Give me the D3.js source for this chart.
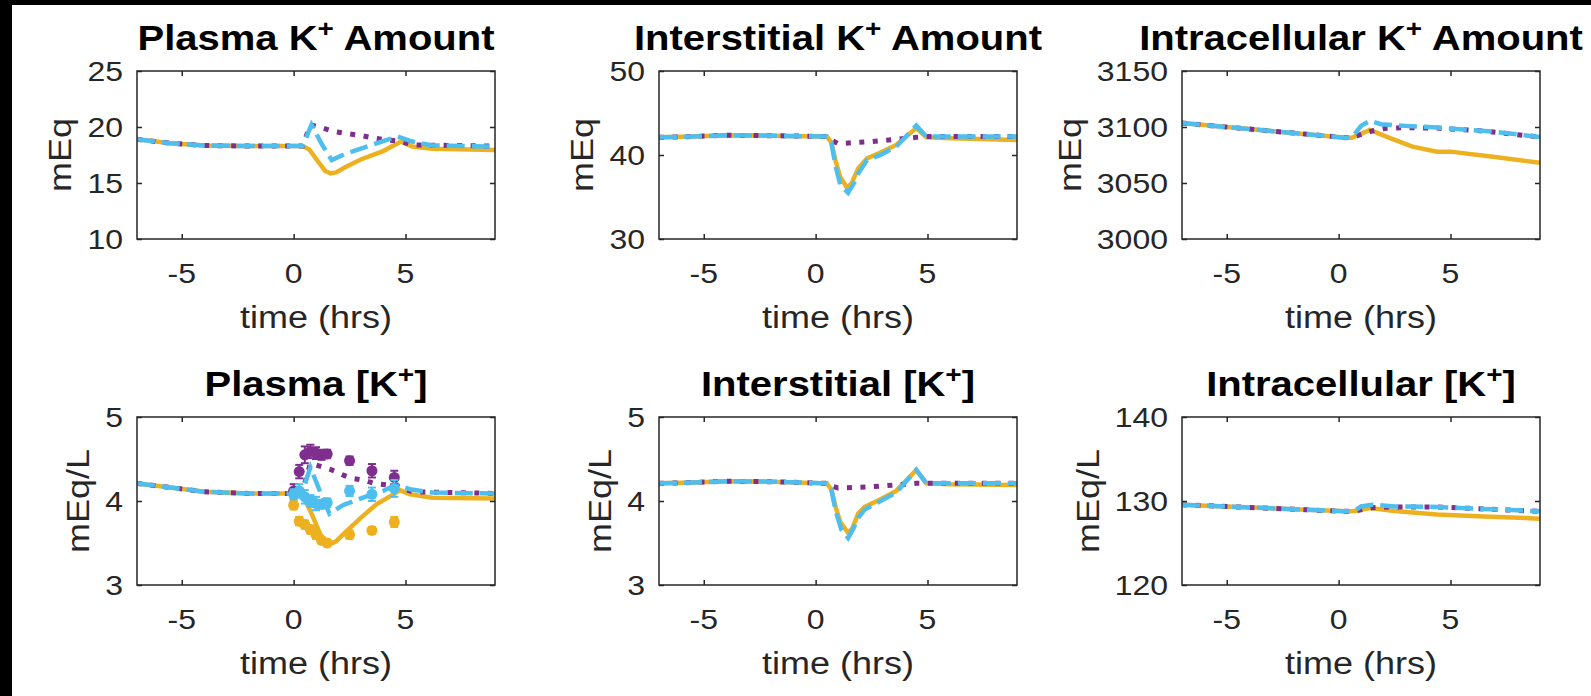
<!DOCTYPE html>
<html>
<head>
<meta charset="utf-8">
<script src="https://cdn.jsdelivr.net/npm/d3@7"></script>
<style>
  body { margin: 0; background: #000; }
  text { font-family: "Liberation Sans", Arial, sans-serif; fill: #262626; }
</style>
</head>
<body>
<div id="chart"></div>
<script>
// axe des temps, commun aux six panneaux
var timeDomain = [-7, 9]
var timeTicks = [-5, 0, 5]

// graduations verticales
var plasmaAmtTicks = [10, 15, 20, 25]
var interAmtTicks = [30, 40, 50]
var intraAmtTicks = [3000, 3050, 3100, 3150]
var plasmaConcTicks = [3, 4, 5]
var interConcTicks = [3, 4, 5]
var intraConcTicks = [120, 130, 140]

// Plasma K+ Amount (mEq) : [temps, valeur]
var plasmaAmtSolid = [[-7,18.9],[-5.5,18.55],[-4,18.35],[-2,18.3],[0.4,18.3],[0.7,18.0],[1.1,16.9],[1.4,16.1],[1.65,15.85],[1.9,15.95],[2.3,16.4],[3,17.1],[4,17.85],[4.8,18.7],[5.3,18.25],[6.2,18.05],[9,17.95]]
var plasmaAmtDashed = [[-7,18.9],[-5.5,18.55],[-4,18.35],[-2,18.3],[0.4,18.3],[0.8,20.2],[1.25,18.5],[1.7,17.05],[2.3,17.6],[3.2,18.2],[4.1,18.8],[4.65,19.15],[5.3,18.7],[6.2,18.35],[9,18.25]]
var plasmaAmtDotted = [[-7,18.9],[-5.5,18.55],[-4,18.35],[-2,18.3],[0.4,18.3],[0.75,20.2],[1.3,19.9],[1.8,19.6],[2.4,19.4],[3,19.25],[3.6,19.0],[4.2,18.85],[4.7,18.75],[5.3,18.4],[9,18.3]]

// Interstitial K+ Amount (mEq)
var interAmtSolid = [[-7,42.1],[-5.5,42.2],[-4,42.35],[-2,42.3],[0.5,42.2],[0.7,41.5],[0.9,39.2],[1.1,37.4],[1.4,36.1],[1.6,36.6],[1.9,38.4],[2.3,39.6],[2.9,40.3],[3.6,41.2],[4.5,43.2],[4.95,42.1],[6,42.0],[9,41.8]]
var interAmtDashed = [[-7,42.1],[-5.5,42.2],[-4,42.35],[-2,42.3],[0.5,42.2],[0.7,41.5],[0.9,38.6],[1.1,36.5],[1.45,35.5],[1.7,36.6],[1.9,37.8],[2.3,39.4],[2.9,40.0],[3.6,41.0],[4.5,43.5],[4.95,42.2],[9,42.2]]
var interAmtDotted = [[-7,42.1],[-5.5,42.2],[-4,42.35],[-2,42.3],[0.5,42.2],[0.7,41.8],[1,41.35],[2.5,41.6],[4.5,42.1],[5,42.2],[9,42.2]]

// Intracellular K+ Amount (mEq)
var intraAmtSolid = [[-7,3103.5],[0.3,3090.5],[0.6,3090.5],[1.4,3097.3],[2.3,3090],[3.3,3082.5],[4.4,3078],[5,3078],[6.9,3073.5],[9,3068]]
var intraAmtDashed = [[-7,3103.5],[0.3,3090.5],[0.6,3090.8],[1.0,3101],[1.4,3105.5],[1.9,3102.5],[3,3101],[4.4,3099.5],[6.9,3096],[9,3091]]
var intraAmtDotted = [[-7,3103.5],[0.3,3090.5],[0.6,3090.8],[1.5,3096.5],[2.1,3098.8],[2.9,3099.4],[4.4,3099],[6.4,3096.5],[9,3091]]

// Plasma [K+] (mEq/L)
var plasmaConcSolid = [[-7,4.21],[-5.5,4.16],[-4,4.11],[-2,4.09],[0.3,4.09],[0.4,4.07],[0.8,3.85],[1.2,3.6],[1.55,3.48],[1.9,3.52],[2.2,3.6],[3,3.8],[3.7,3.96],[4.4,4.07],[4.75,4.13],[5.2,4.08],[6.2,4.04],[9,4.03]]
var plasmaConcDashed = [[-7,4.21],[-5.5,4.16],[-4,4.11],[-2,4.09],[0.3,4.09],[0.4,4.12],[0.75,4.4],[1.2,4.1],[1.6,3.85],[2.2,3.95],[3.2,4.05],[4,4.12],[4.6,4.2],[5.2,4.14],[6.2,4.1],[9,4.09]]
var plasmaConcDotted = [[-7,4.21],[-5.5,4.16],[-4,4.11],[-2,4.09],[0.3,4.09],[0.4,4.12],[0.75,4.45],[1.7,4.37],[2.2,4.31],[2.6,4.27],[3.1,4.25],[3.6,4.21],[4.2,4.19],[4.7,4.17],[5.3,4.11],[9,4.09]]

// mesures du plasma avec barres d'erreur
var obsTime = [0, 0.25, 0.5, 0.75, 1, 1.25, 1.5, 2.5, 3.5, 4.5]
var obsSolid = [3.95, 3.76, 3.72, 3.66, 3.6, 3.53, 3.5, 3.6, 3.65, 3.75]
var obsSolidErr = [0.05, 0.05, 0.05, 0.05, 0.05, 0.04, 0.04, 0.05, 0.04, 0.06]
var obsDashed = [4.08, 4.12, 4.05, 4.0, 3.97, 3.96, 3.98, 4.12, 4.08, 4.15]
var obsDashedErr = [0.06, 0.08, 0.08, 0.07, 0.08, 0.05, 0.05, 0.06, 0.08, 0.1]
var obsDotted = [4.12, 4.35, 4.55, 4.59, 4.57, 4.55, 4.56, 4.48, 4.36, 4.28]
var obsDottedErr = [0.08, 0.08, 0.1, 0.08, 0.07, 0.06, 0.05, 0.05, 0.08, 0.08]

// Interstitial [K+] (mEq/L)
var interConcSolid = [[-7,4.21],[-5.5,4.22],[-4,4.235],[-2,4.23],[0.5,4.21],[0.7,4.14],[0.9,3.92],[1.1,3.75],[1.45,3.62],[1.65,3.68],[1.9,3.85],[2.2,3.93],[2.9,4.02],[3.6,4.12],[4.5,4.37],[4.95,4.21],[6,4.2],[9,4.19]]
var interConcDashed = [[-7,4.21],[-5.5,4.22],[-4,4.235],[-2,4.23],[0.5,4.21],[0.7,4.14],[0.9,3.88],[1.15,3.66],[1.45,3.56],[1.7,3.68],[1.9,3.8],[2.2,3.9],[2.9,4.0],[3.6,4.1],[4.5,4.37],[4.95,4.21],[9,4.21]]
var interConcDotted = [[-7,4.21],[-5.5,4.22],[-4,4.235],[-2,4.23],[0.5,4.21],[0.7,4.18],[1,4.155],[2.5,4.17],[4.5,4.21],[5,4.21],[9,4.21]]

// Intracellular [K+] (mEq/L)
var intraConcSolid = [[-7,129.56],[0.3,128.77],[0.7,128.8],[1.4,129.17],[2.5,128.8],[4.4,128.4],[6.5,128.15],[9,127.9]]
var intraConcDashed = [[-7,129.56],[0.3,128.77],[0.7,128.8],[1.0,129.35],[1.5,129.56],[2.5,129.35],[4.4,129.3],[6.5,129.05],[9,128.77]]
var intraConcDotted = [[-7,129.56],[0.3,128.77],[0.7,128.8],[1.5,129.2],[2.5,129.3],[4.4,129.3],[6.5,129.05],[9,128.77]]

// dimensions de la figure
var width = 1591
var height = 696
var colLeft = [137, 659, 1182]
var rowTop = [71, 417]
var boxW = 358
var boxH = 168
var squish = 0.88  // glyphes un peu plus bas que Arial dans l'original

var colSolid = "#EDB120"
var colDashed = "#4DBEEE"
var colDotted = "#7E2F8E"

var svg = d3.select("#chart")
  .append("svg")
    .attr("width", width)
    .attr("height", height)

// fond noir avec zone blanche décalée, comme l'original
svg.append("rect").attr("width", width).attr("height", height).attr("fill", "#000")
svg.append("rect").attr("x", 12).attr("y", 5).attr("width", width - 12).attr("height", height - 5).attr("fill", "#fff")

var panels = [
  { title: ["Plasma K", "+", " Amount"], ylab: "mEq", dom: [10, 25], ticks: plasmaAmtTicks, c: 0, r: 0,
    solid: plasmaAmtSolid, dashed: plasmaAmtDashed, dotted: plasmaAmtDotted },
  { title: ["Interstitial K", "+", " Amount"], ylab: "mEq", dom: [30, 50], ticks: interAmtTicks, c: 1, r: 0,
    solid: interAmtSolid, dashed: interAmtDashed, dotted: interAmtDotted },
  { title: ["Intracellular K", "+", " Amount"], ylab: "mEq", dom: [3000, 3150], ticks: intraAmtTicks, c: 2, r: 0,
    solid: intraAmtSolid, dashed: intraAmtDashed, dotted: intraAmtDotted },
  { title: ["Plasma [K", "+", "]"], ylab: "mEq/L", dom: [3, 5], ticks: plasmaConcTicks, c: 0, r: 1,
    solid: plasmaConcSolid, dashed: plasmaConcDashed, dotted: plasmaConcDotted, obs: true },
  { title: ["Interstitial [K", "+", "]"], ylab: "mEq/L", dom: [3, 5], ticks: interConcTicks, c: 1, r: 1,
    solid: interConcSolid, dashed: interConcDashed, dotted: interConcDotted },
  { title: ["Intracellular [K", "+", "]"], ylab: "mEq/L", dom: [120, 140], ticks: intraConcTicks, c: 2, r: 1,
    solid: intraConcSolid, dashed: intraConcDashed, dotted: intraConcDotted }
]

function place(px, py) {
  return "translate(" + px + "," + py + ") scale(1," + squish + ")"
}

panels.forEach(function(p, i) {
  var x0 = colLeft[p.c], y0 = rowTop[p.r]
  var g = svg.append("g").attr("transform", "translate(" + x0 + "," + y0 + ")")

  var x = d3.scaleLinear().domain(timeDomain).range([0, boxW])
  var y = d3.scaleLinear().domain(p.dom).range([boxH, 0])

  g.append("clipPath").attr("id", "clip" + i)
    .append("rect").attr("width", boxW).attr("height", boxH)

  // courbes du modèle : pleine, pointillée, tirets
  var line = d3.line()
    .x(function(d) { return x(d[0]) })
    .y(function(d) { return y(d[1]) })

  var lines = g.append("g").attr("clip-path", "url(#clip" + i + ")")
  lines.append("path").datum(p.solid)
    .attr("d", line).attr("fill", "none")
    .attr("stroke", colSolid).attr("stroke-width", 4.5)
  lines.append("path").datum(p.dotted)
    .attr("d", line).attr("fill", "none")
    .attr("stroke", colDotted).attr("stroke-width", 5)
    .attr("stroke-dasharray", "5,8.5")
  lines.append("path").datum(p.dashed)
    .attr("d", line).attr("fill", "none")
    .attr("stroke", colDashed).attr("stroke-width", 4.5)
    .attr("stroke-dasharray", "18,7")

  // points expérimentaux
  if (p.obs) {
    var sets = [[obsDotted, obsDottedErr, colDotted], [obsSolid, obsSolidErr, colSolid], [obsDashed, obsDashedErr, colDashed]]
    sets.forEach(function(s) {
      var gg = g.append("g")
      obsTime.forEach(function(t, k) {
        var cx = x(t), v = s[0][k], e = s[1][k]
        gg.append("line").attr("x1", cx).attr("x2", cx)
          .attr("y1", y(v - e)).attr("y2", y(v + e))
          .attr("stroke", s[2]).attr("stroke-width", 2)
        gg.append("line").attr("x1", cx - 4).attr("x2", cx + 4)
          .attr("y1", y(v - e)).attr("y2", y(v - e))
          .attr("stroke", s[2]).attr("stroke-width", 2)
        gg.append("line").attr("x1", cx - 4).attr("x2", cx + 4)
          .attr("y1", y(v + e)).attr("y2", y(v + e))
          .attr("stroke", s[2]).attr("stroke-width", 2)
        gg.append("circle").attr("cx", cx).attr("cy", y(v)).attr("r", 5.5)
          .attr("fill", s[2])
      })
    })
  }

  // cadre et graduations internes (style MATLAB)
  var axCol = "#262626"
  g.append("rect").attr("width", boxW).attr("height", boxH)
    .attr("fill", "none").attr("stroke", axCol).attr("stroke-width", 1.5)

  var xb = d3.axisBottom(x).tickValues(timeTicks).tickSize(-5).tickFormat("")
  var xt = d3.axisTop(x).tickValues(timeTicks).tickSize(-5).tickFormat("")
  var yl = d3.axisLeft(y).tickValues(p.ticks).tickSize(-5).tickFormat("")
  var yr = d3.axisRight(y).tickValues(p.ticks).tickSize(-5).tickFormat("")
  ;[[xb, "translate(0," + boxH + ")"], [xt, null], [yl, null], [yr, "translate(" + boxW + ",0)"]].forEach(function(a) {
    var ax = g.append("g").call(a[0])
    if (a[1]) ax.attr("transform", a[1])
    ax.select(".domain").remove()
    ax.selectAll("line").attr("stroke", axCol).attr("stroke-width", 1.5)
  })

  // étiquettes des graduations
  g.selectAll(".xlab").data(timeTicks).enter().append("text")
    .attr("transform", function(d) { return place(x(d), boxH + 44) })
    .attr("text-anchor", "middle")
    .style("font-size", "32px")
    .text(function(d) { return d })

  var ytxt = g.selectAll(".ylab").data(p.ticks).enter().append("text")
    .attr("transform", function(d) { return place(-14, y(d) + 10) })
    .attr("text-anchor", "end")
    .style("font-size", "32px")
    .text(function(d) { return d })

  var maxW = 0
  ytxt.each(function() { maxW = Math.max(maxW, this.getComputedTextLength()) })

  // titres des axes
  g.append("text")
    .attr("transform", place(boxW / 2, boxH + 89))
    .attr("text-anchor", "middle")
    .style("font-size", "36px")
    .text("time (hrs)")

  var lx = -14 - maxW - 16
  g.append("text")
    .attr("transform", "translate(" + lx + "," + (boxH / 2) + ") rotate(-90) scale(1," + squish + ")")
    .attr("text-anchor", "middle")
    .style("font-size", "36px")
    .text(p.ylab)

  // titre en gras avec exposant
  var tt = g.append("text")
    .attr("transform", place(boxW / 2, -21))
    .attr("text-anchor", "middle")
    .style("font-size", "40px")
    .style("font-weight", "bold")
    .style("fill", "#000")
  tt.append("tspan").text(p.title[0])
  tt.append("tspan").attr("dy", -15).style("font-size", "28px").text(p.title[1])
  tt.append("tspan").attr("dy", 15).text(p.title[2])
})
</script>
</body>
</html>
